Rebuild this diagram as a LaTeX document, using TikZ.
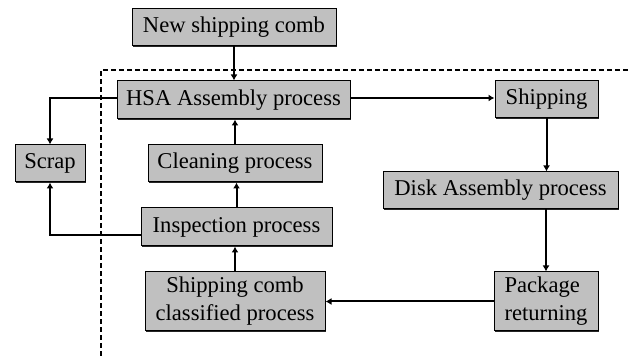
\documentclass[tikz,border=0pt]{standalone}
\usepackage{fontspec}
\setmainfont{Liberation Serif}
\usetikzlibrary{arrows.meta,shadows}

\begin{document}
\begin{tikzpicture}[x=0.5pt, y=-0.5pt,
    box/.style={draw=black, line width=0.5pt, fill=boxgray, inner sep=0pt,
      font=\fontsize{11.3}{14}\selectfont,
      drop shadow={shadow xshift=0.7pt, shadow yshift=-0.7pt, fill=black!85, opacity=1}},
    link/.style={line width=1pt, -{Latex[length=3pt, width=3.5pt]}}]
    \definecolor{boxgray}{RGB}{192,192,192}
    \useasboundingbox (0,0) rectangle (631,356);

    % border of the closed loop
    \draw[line width=0.9pt, dash pattern=on 2.5pt off 1.5pt] (101,356) -- (101,70) -- (631,70);

    \node[box, minimum width=102pt, minimum height=18.5pt] (new) at (234,27.5) {New shipping comb};
    \node[box, minimum width=116.5pt, minimum height=19pt] (hsa) at (233.5,100) {HSA Assembly process};
    \node[box, minimum width=51.5pt, minimum height=18.5pt] (ship) at (546.5,99.5) {Shipping};
    \node[box, minimum width=35pt, minimum height=18.5pt] (scrap) at (50,163.5) {Scrap};
    \node[box, minimum width=87pt, minimum height=18.5pt] (clean) at (235,163.5) {Cleaning process};
    \node[box, minimum width=117.5pt, minimum height=18.5pt] (disk) at (500.5,190.5) {Disk Assembly process};
    \node[box, minimum width=95.5pt, minimum height=19pt] (insp) at (236.5,227) {Inspection process};
    \node[box, minimum width=90pt, minimum height=29.5pt, align=center] (cls) at (235,301.5) {Shipping comb\\classified process};
    \node[box, minimum width=52pt, minimum height=29.5pt, align=left] (pkg) at (546,301.5) {Package\\returning};

    \draw[link] (new.south) -- (new.south |- hsa.north);
    \draw[link] ([yshift=1pt]hsa.west) -| (scrap.north);
    \draw[link] ([yshift=1pt]hsa.east) -- ([yshift=1pt]hsa.east -| ship.west);
    \draw[link] (clean.north) -- (clean.north |- hsa.south);
    \draw[link] (insp.north) -- (insp.north |- clean.south);
    \draw[link] (cls.north) -- (cls.north |- insp.south);
    \draw[link] ([yshift=-4pt]insp.west) -| (scrap.south);
    \draw[link] (ship.south) -- (ship.south |- disk.north);
    \draw[link] (pkg.north |- disk.south) -- (pkg.north);
    \draw[link] (pkg.west) -- (pkg.west -| cls.east);
\end{tikzpicture}
\end{document}
